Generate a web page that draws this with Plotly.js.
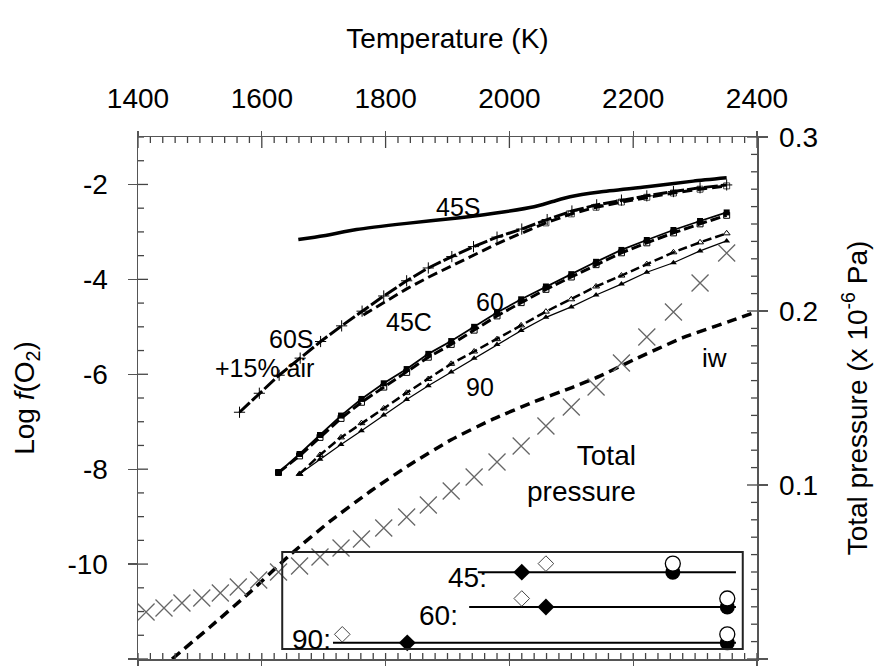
<!DOCTYPE html>
<html>
<head>
<meta charset="utf-8">
<script src="https://cdn.plot.ly/plotly-3.0.1.min.js"></script>
<style>html,body{margin:0;padding:0;background:#fff;}#chart{width:879px;height:669px;}</style>
</head>
<body>
<div id="chart"></div>
<script>
// ---------- data ----------
const T45S = [1659, 1700, 1753, 1834, 1920, 1990, 2040, 2070, 2098, 2146, 2222, 2297, 2351];
const v45S = [-3.16, -3.08, -2.95, -2.82, -2.70, -2.58, -2.47, -2.36, -2.26, -2.16, -2.05, -1.93, -1.86];

const T60S = [1564, 1596, 1628, 1662, 1695, 1729, 1762, 1797, 1834, 1869, 1907, 1942, 1980, 2020, 2061, 2101, 2141, 2181, 2222, 2265, 2308, 2351];
const v60S = [-6.80, -6.40, -6.02, -5.66, -5.31, -4.98, -4.67, -4.35, -4.03, -3.76, -3.52, -3.31, -3.11, -2.94, -2.74, -2.56, -2.43, -2.33, -2.24, -2.15, -2.07, -2.01];

const T45C = [1764, 1799, 1834, 1870, 1907, 1943, 1980, 2019, 2059, 2100, 2140, 2181, 2222, 2265, 2308, 2351];
const v45C = [-4.75, -4.47, -4.20, -3.95, -3.72, -3.48, -3.25, -3.03, -2.81, -2.62, -2.48, -2.37, -2.27, -2.18, -2.10, -2.03];

const T60 = [1627, 1661, 1694, 1728, 1761, 1797, 1834, 1869, 1906, 1943, 1980, 2019, 2059, 2100, 2140, 2181, 2222, 2265, 2308, 2351];
const v60filled = [-8.07, -7.68, -7.28, -6.87, -6.52, -6.19, -5.89, -5.57, -5.30, -5.00, -4.70, -4.42, -4.15, -3.89, -3.63, -3.38, -3.17, -2.96, -2.77, -2.59];
const v60open = [-8.07, -7.72, -7.33, -6.93, -6.59, -6.27, -5.96, -5.64, -5.37, -5.07, -4.77, -4.49, -4.21, -3.95, -3.69, -3.44, -3.23, -3.02, -2.83, -2.65];

const T90 = [1661, 1694, 1728, 1761, 1797, 1834, 1869, 1906, 1943, 1980, 2019, 2059, 2100, 2140, 2181, 2222, 2265, 2308, 2351];
const v90open = [-8.10, -7.70, -7.33, -7.03, -6.72, -6.39, -6.10, -5.78, -5.52, -5.26, -4.97, -4.68, -4.42, -4.15, -3.92, -3.68, -3.43, -3.22, -3.03];
const v90filled = [-8.10, -7.79, -7.48, -7.19, -6.86, -6.53, -6.24, -5.95, -5.66, -5.37, -5.08, -4.80, -4.58, -4.33, -4.10, -3.85, -3.65, -3.40, -3.19];

const Tiw = [1455, 1516, 1582, 1646, 1711, 1776, 1841, 1906, 1971, 2036, 2101, 2146, 2200, 2280, 2361, 2400];
const viw = [-12.0, -11.33, -10.58, -9.80, -9.09, -8.46, -7.89, -7.38, -6.96, -6.60, -6.28, -6.04, -5.70, -5.23, -4.86, -4.68];

const Tp = [1413, 1442, 1471, 1503, 1533, 1562, 1595, 1627, 1661, 1694, 1728, 1761, 1797, 1834, 1869, 1906, 1943, 1980, 2019, 2059, 2100, 2140, 2181, 2222, 2265, 2308, 2351];
const pTotal = [0.0270, 0.0293, 0.0322, 0.0351, 0.0379, 0.0414, 0.0454, 0.0500, 0.0534, 0.0586, 0.0638, 0.0690, 0.0753, 0.0816, 0.0885, 0.0966, 0.1046, 0.1132, 0.1224, 0.1339, 0.1448, 0.1563, 0.1701, 0.1851, 0.1994, 0.2161, 0.2333];

// inset (temperature ranges per composition)
const insetNames = ['45:', '60:', '90:'];
const insetLineStart = [1949, 1935, 1715];
const insetLineEnd = [2366, 2366, 2366];
const insetFilledDiamond = [2020, 2059, 1835];
const insetOpenDiamond = [2059, 2020, 1730];
const insetCircle = [2264, 2352, 2352];

// tick labels
const xTicks = [1400, 1600, 1800, 2000, 2200, 2400];
const xTickText = ['1400', '1600', '1800', '2000', '2200', '2400'];
const yTicks = [-12, -10, -8, -6, -4, -2];
const yTickText = ['-12', '-10', '-8', '-6', '-4', '-2'];
const pTicks = [0, 0.1, 0.2, 0.3];
const pTickText = ['0', '0.1', '0.2', '0.3'];

// ---------- layout positions (not data) ----------
const insetRowY = [-10.17, -10.905, -11.66];
const insetOffsetY = 0.18;
const insetBox = {x0: 1633, x1: 2377, y0: -11.79, y1: -9.746};

function steps(a, b, d) { const out = []; const n = Math.round((b - a) / d); for (let i = 0; i <= n; i++) out.push(+(a + i * d).toFixed(4)); return out; }
const xMinor = steps(1400, 2400, 20);
const yMinor = steps(-12, -1, 0.5);
const pMinor = steps(0, 0.3, 0.01);
const isMajor = (v, arr) => arr.some(t => Math.abs(t - v) < 1e-6);

const FONT = 'Liberation Sans, Arial, sans-serif';
const AX = '#555';

const traces = [];
traces.push({x: T45S, y: v45S, mode: 'lines', line: {color: '#000', width: 3.5, shape: 'spline', smoothing: 0.6}});
traces.push({x: T45C, y: v45C, mode: 'lines+markers', line: {color: '#000', width: 3, dash: '10px,5px'},
  marker: {symbol: 'square-open', size: T45C.map(t => (t >= 2059 ? 6 : 0)), color: '#000', line: {width: 1}}});
traces.push({x: T60S, y: v60S, mode: 'lines+markers', line: {color: '#000', width: 3, dash: '14px,3px'},
  marker: {symbol: 'cross-thin', size: 8, line: {color: '#000', width: 1}}});
traces.push({x: T60, y: v60open, mode: 'lines+markers', line: {color: '#000', width: 3, dash: '10px,4px'},
  marker: {symbol: 'square-open', size: 6, color: '#000', line: {width: 1}}});
traces.push({x: T60, y: v60filled, mode: 'lines+markers', line: {color: '#000', width: 1.8},
  marker: {symbol: 'square', size: 6, color: '#000'}});
traces.push({x: T90, y: v90open, mode: 'lines+markers', line: {color: '#000', width: 2.5, dash: '9px,4px'},
  marker: {symbol: 'triangle-up-open', size: 6, color: '#000', line: {width: 1}}});
traces.push({x: T90, y: v90filled, mode: 'lines+markers', line: {color: '#000', width: 1.2},
  marker: {symbol: 'triangle-up', size: 6, color: '#000'}});
traces.push({x: Tiw, y: viw, mode: 'lines', line: {color: '#000', width: 3.5, dash: '10px,6px', shape: 'spline', smoothing: 0.5}});
traces.push({x: Tp, y: pTotal, yaxis: 'y2', mode: 'markers',
  marker: {symbol: 'x-thin', size: 17, line: {color: '#666', width: 1.3}}});

// inset lines and markers
for (let i = 0; i < insetNames.length; i++) {
  traces.push({x: [insetLineStart[i], insetLineEnd[i]], y: [insetRowY[i], insetRowY[i]], mode: 'lines',
    line: {color: '#000', width: 2}});
}
traces.push({x: insetFilledDiamond, y: insetRowY, mode: 'markers',
  marker: {symbol: 'diamond', size: 13, color: '#000'}});
traces.push({x: insetOpenDiamond, y: insetRowY.map(v => v + insetOffsetY), mode: 'markers',
  marker: {symbol: 'diamond-open', size: 12, color: '#444', line: {width: 1}}});
traces.push({x: insetCircle, y: insetRowY, mode: 'markers',
  marker: {symbol: 'circle', size: 15, color: '#000'}});
traces.push({x: insetCircle, y: insetRowY.map(v => v + insetOffsetY), mode: 'markers',
  marker: {symbol: 'circle', size: 15, color: '#fff', line: {color: '#000', width: 1.3}}});

// dummy traces to activate overlay axes
[['x2', 'y'], ['x3', 'y']].forEach(p => {
  traces.push({x: [null], y: [null], xaxis: p[0], yaxis: p[1], mode: 'markers', hoverinfo: 'skip'});
});

// inside tick marks (fixed-pixel-length shapes anchored on the axes' own scales)
const TK = {color: '#444', width: 1.3};
const shapes = [];
xMinor.forEach(v => {
  const len = isMajor(v, xTicks) ? 11 : 6;
  shapes.push({type: 'line', xref: 'x', yref: 'paper', ysizemode: 'pixel', yanchor: 1, x0: v, x1: v, y0: 0, y1: -len, line: TK});
  shapes.push({type: 'line', xref: 'x', yref: 'paper', ysizemode: 'pixel', yanchor: 0, x0: v, x1: v, y0: 0, y1: 6, line: TK});
});
yMinor.forEach(v => {
  const len = isMajor(v, yTicks) ? 10 : 6;
  shapes.push({type: 'line', xref: 'paper', yref: 'y', xsizemode: 'pixel', xanchor: 0, x0: 0, x1: len, y0: v, y1: v, line: TK});
});
pMinor.forEach(v => {
  const len = isMajor(v, pTicks) ? 10 : 6;
  shapes.push({type: 'line', xref: 'paper', yref: 'y2', xsizemode: 'pixel', xanchor: 1, x0: 0, x1: -len, y0: v, y1: v, line: TK});
});
shapes.push({type: 'rect', xref: 'x', yref: 'y', x0: insetBox.x0, x1: insetBox.x1, y0: insetBox.y0, y1: insetBox.y1,
  line: {color: '#222', width: 2}, fillcolor: 'rgba(0,0,0,0)', layer: 'above'});

const tf = {family: FONT, size: 28, color: '#000'};
const baseX = {range: [1400, 2400], showgrid: false, zeroline: false, fixedrange: true, tickmode: 'array', tickcolor: AX, tickwidth: 1.3};
const baseY = {showgrid: false, zeroline: false, fixedrange: true, tickmode: 'array', tickcolor: AX, tickwidth: 1.3};

const ann = (x, y, text, size, opts) => Object.assign({x: x, y: y, xref: 'x', yref: 'y', text: text, showarrow: false,
  font: {family: FONT, size: size, color: '#000'}}, opts || {});

const annotations = [
  ann(1917, -2.47, '45S', 25),
  ann(1647, -5.26, '60S', 25),
  ann(1604, -5.87, '+15% air', 25),
  ann(1838, -4.90, '45C', 25),
  ann(1969, -4.48, '60', 25),
  ann(1953, -6.27, '90', 25),
  ann(2332, -5.66, 'iw', 26),
  ann(2207, -8.09, 'Total<br>pressure', 28, {xanchor: 'right', align: 'right'}),
];
const insetLabelX = [1967, 1920, 1715];
const insetLabelY = [-10.29, -11.09, -11.58];
for (let i = 0; i < insetNames.length; i++) {
  annotations.push(ann(insetLabelX[i], insetLabelY[i], insetNames[i], 28, {xanchor: 'right'}));
}

const layout = {
  width: 879, height: 669,
  margin: {l: 138, r: 122, t: 137, b: 10, pad: 0},
  paper_bgcolor: '#fff', plot_bgcolor: '#fff',
  showlegend: false,
  font: {family: FONT, size: 24, color: '#000'},
  xaxis: Object.assign({}, baseX, {side: 'bottom', anchor: 'y', showline: true, linecolor: AX, linewidth: 1.5,
    ticks: '', showticklabels: false}),
  xaxis3: Object.assign({}, baseX, {overlaying: 'x', anchor: 'y', side: 'bottom', showline: false,
    ticks: 'outside', ticklen: 6, tickvals: xTicks, showticklabels: false}),
  xaxis2: Object.assign({}, baseX, {overlaying: 'x', side: 'top', anchor: 'y', showline: true, linecolor: AX, linewidth: 1.5,
    ticks: 'outside', ticklen: 5, tickvals: xTicks, ticktext: xTickText, tickfont: tf, ticklabelstandoff: 11,
    title: {text: 'Temperature (K)', font: tf, standoff: 26}}),
  yaxis: Object.assign({}, baseY, {range: [-12, -1], side: 'left', anchor: 'x', showline: true, linecolor: AX, linewidth: 1.5,
    ticks: 'outside', ticklen: 9, tickvals: yTicks, ticktext: yTickText, tickfont: tf, ticklabelstandoff: 14,
    title: {text: 'Log <i>f</i>(O<sub>2</sub>)', font: tf, standoff: 24}}),
  yaxis2: Object.assign({}, baseY, {range: [0, 0.3], overlaying: 'y', side: 'right', anchor: 'x', showline: true, linecolor: AX, linewidth: 1.5,
    ticks: 'outside', ticklen: 9, tickvals: pTicks, ticktext: pTickText, tickfont: tf, ticklabelstandoff: 6,
    title: {text: 'Total pressure (x 10<sup>-6</sup> Pa)', font: tf, standoff: 30}}),
  shapes: shapes,
  annotations: annotations
};

traces.forEach(t => { if (!t.type) t.type = 'scatter'; t.showlegend = false; t.cliponaxis = true; });
Plotly.newPlot('chart', traces, layout, {displayModeBar: false, staticPlot: true});
</script>
</body>
</html>
